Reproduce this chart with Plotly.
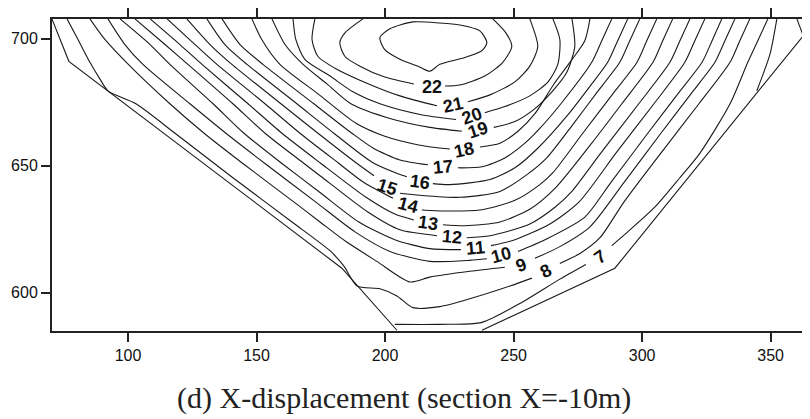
import plotly.graph_objects as go

N = None
# ---- contour lines of X-displacement (x: m, y: elevation m) ----
c5_x = [360.2, 362.5]
c5_y = [707.8, 701.6]
c6_x = [344.6, 349.7, 352.4]
c6_y = [679.5, 693.8, 707.8]
c7_x = [203.8, 221.3, 237.7, 252.4, 268.0, 278.1, N, 288.2, 294.4, 304.9, 314.7, 322.5, 334.2, 341.1, 345.0, 348.9]
c7_y = [587.6, 587.6, 588.4, 595.8, 605.4, 611.2, N, 618.6, 624.0, 633.7, 645.3, 655.0, 674.4, 690.7, 699.2, 707.8]
c8_x = [76.3, 80.6, 85.2, 89.1, 92.2, 103.1, 118.3, 140.8, 163.8, 178.9, 184.0, 189.1, 198.0, 204.6, 210.8, 221.3, 233.0, 248.6, 257.1, N,
        268.0, 275.8, 283.6, 292.9, 307.3, 322.1, 334.2, 338.0, 341.9]
c8_y = [707.8, 699.6, 690.7, 684.1, 679.5, 674.4, 662.8, 645.3, 627.9, 616.3, 610.5, 602.7, 601.6, 598.8, 594.2, 594.6, 597.7, 602.7, 605.8, N,
        611.6, 615.5, 621.7, 635.7, 655.0, 674.4, 690.7, 699.2, 707.8]
c9_x = [85.2, 91.1, 100.8, 116.3, 129.6, 144.3, 164.6, 174.7, 184.8, 196.8, 209.7, 217.4, 233.0, 246.6, N,
        258.3, 268.0, 279.7, 292.9, 307.3, 319.0, 328.3, 332.2, 336.1]
c9_y = [707.8, 699.6, 689.2, 674.4, 662.8, 651.2, 635.7, 627.9, 620.2, 612.4, 604.3, 606.2, 608.5, 610.1, N,
        613.6, 618.2, 626.0, 643.4, 662.8, 678.3, 690.7, 699.2, 707.8]
c10_x = [92.2, 98.8, 105.8, 124.1, 138.1, 152.9, 173.1, 188.3, 201.9, 217.4, 233.0, 239.6, N,
         251.7, 262.2, 277.7, 287.8, 302.2, 313.9, 323.3, 327.2, 331.0]
c10_y = [707.8, 697.7, 689.9, 674.4, 662.8, 651.2, 635.7, 624.0, 616.3, 612.4, 612.8, 613.4, N,
         616.3, 620.9, 629.8, 643.4, 662.8, 678.3, 690.7, 699.2, 707.8]
c11_x = [96.9, 108.6, 116.3, 133.1, 145.1, 159.5, 174.7, 189.8, 203.8, 217.4, 229.5, N,
         241.2, 250.5, 264.1, 275.4, 289.8, 304.6, 316.6, 320.5, 324.4]
c11_y = [707.8, 697.7, 689.9, 674.4, 662.8, 651.2, 639.5, 627.9, 620.9, 617.4, 617.0, N,
         618.6, 620.9, 627.1, 635.7, 655.0, 674.4, 690.7, 699.2, 707.8]
c12_x = [102.7, 114.4, 123.3, 140.8, 153.3, 168.1, 174.7, 193.3, 205.8, 220.2, N,
         231.8, 240.8, 256.3, 266.1, 272.3, 283.9, 298.7, 310.8, 314.7, 318.6]
c12_y = [707.8, 697.7, 689.9, 674.4, 662.8, 651.2, 646.1, 631.8, 624.8, 622.5, N,
         621.7, 622.5, 627.1, 633.7, 639.5, 655.0, 674.4, 690.7, 699.2, 707.8]
c13_x = [108.6, 120.2, 128.8, 146.7, 159.9, 174.7, 192.6, 203.8, 211.2, N,
         222.5, 231.1, 244.7, 256.3, 266.1, 280.4, 292.1, 304.2, 308.0, 311.9]
c13_y = [707.8, 697.7, 689.9, 674.4, 662.8, 651.2, 637.6, 631.0, 628.7, N,
         626.8, 626.4, 627.9, 632.9, 641.1, 658.9, 674.4, 690.7, 699.2, 707.8]
c14_x = [115.2, 126.1, 134.6, 153.3, 166.9, 181.7, 191.8, 203.1, N,
         214.3, 223.3, 236.9, 250.5, 260.2, 265.3, 276.9, 288.6, 298.0, 301.8, 305.7]
c14_y = [707.8, 697.7, 689.9, 674.4, 662.8, 651.2, 643.4, 637.2, N,
         632.6, 632.2, 632.6, 636.4, 642.6, 647.3, 662.8, 678.3, 690.7, 699.2, 707.8]
c15_x = [122.9, 131.9, 140.4, 159.5, 173.9, 188.7, 195.7, N,
         205.8, 213.6, 229.1, 244.7, 255.2, 262.9, 273.4, 282.0, 291.3, 295.2, 299.1]
c15_y = [707.8, 697.7, 689.9, 674.4, 662.8, 651.2, 646.1, N,
         639.2, 638.4, 637.6, 639.9, 646.5, 653.1, 666.7, 678.3, 690.7, 699.2, 707.8]
c16_x = [130.7, 137.7, 146.3, 165.7, 180.1, 195.3, 205.0, 208.5, N,
         218.6, 225.2, 240.8, 250.5, 259.4, 271.5, 280.4, 286.6, 290.5, 294.4]
c16_y = [707.8, 697.7, 689.9, 674.4, 662.8, 651.2, 646.9, 645.7, N,
         643.0, 642.6, 644.6, 649.2, 656.9, 670.5, 682.2, 690.7, 699.2, 707.8]
c17_x = [136.6, 143.6, 152.5, 172.3, 187.1, 195.3, 205.8, 216.7, N,
         228.3, 237.7, 246.6, 254.4, 260.2, 268.4, 280.4, 284.3, 288.2]
c17_y = [707.8, 697.7, 689.9, 674.4, 662.8, 657.0, 652.3, 650.4, N,
         649.2, 649.6, 653.1, 658.9, 664.7, 674.4, 690.7, 699.2, 707.8]
c18_x = [148.2, 152.1, 159.1, 173.9, 188.7, 199.9, 213.6, 225.2, N,
         236.9, 244.7, 251.7, 258.3, 265.7, 271.9, 277.7, 279.7]
c18_y = [707.8, 699.6, 689.9, 678.3, 666.7, 661.6, 658.1, 656.6, N,
         657.4, 658.9, 663.6, 670.5, 682.2, 690.7, 699.2, 707.8]
c19_x = [156.0, 161.1, 168.1, 177.4, 186.7, 201.9, 217.4, 229.9, N,
         242.3, 250.5, 258.3, 264.9, 270.7, 273.8, 272.7]
c19_y = [707.8, 697.7, 689.9, 682.2, 674.4, 668.6, 665.1, 663.6, N,
         665.1, 667.4, 672.5, 679.1, 686.8, 696.9, 707.8]
c20_x = [164.2, 165.3, 168.8, 178.6, 187.5, 198.0, 213.6, 227.6, N,
         238.8, 246.6, 256.3, 263.3, 267.2, 268.0, 265.3]
c20_y = [707.8, 699.6, 691.9, 685.3, 679.1, 674.4, 670.2, 668.2, N,
         670.9, 673.3, 677.5, 682.9, 689.9, 699.6, 707.8]
c21_x = [172.7, 171.6, 173.9, 180.5, 190.2, 205.8, 220.2, N,
         232.2, 240.8, 250.5, 256.3, 259.4, 256.3]
c21_y = [707.8, 699.6, 693.0, 688.4, 683.7, 677.5, 673.6, N,
         675.2, 677.9, 683.0, 689.2, 696.9, 707.8]
c22_x = [191.4, 184.4, 182.4, 184.4, 190.2, 199.9, 211.2, N,
         223.3, 229.1, 238.8, 245.8, 249.3, 247.0, 241.9]
c22_y = [707.8, 702.3, 698.4, 693.0, 689.2, 684.9, 682.2, N,
         681.4, 681.8, 685.3, 690.7, 696.9, 702.3, 707.8]
c23_x = [198.0, 201.9, 210.8, 221.3, 229.1, 236.9, 239.6, 237.7, 231.1, 221.3, 217.4, 213.6, 205.8, 199.9, 198.0]
c23_y = [700.4, 703.9, 706.6, 706.2, 705.4, 703.1, 698.4, 695.3, 692.6, 689.9, 687.2, 688.8, 691.9, 695.7, 700.4]

# valley (section) outline
bound_left_x = [70.4, 77.0, 183.2, 204.6]
bound_left_y = [707.8, 691.1, 609.7, 585.3]
bound_right_x = [237.7, 289.4, 368.0]
bound_right_y = [585.3, 609.7, 707.8]

# contour labels
label_text = ["22", "21", "20", "19", "18", "17", "16", "15", "14", "13", "12", "11", "10", "9", "8", "7"]
label_x = [218.2, 226.4, 233.8, 236.1, 230.7, 222.5, 213.6, 200.7, 208.9, 216.7, 226.0, 235.3, 245.2, 253.0, 262.6, 283.6]
label_y = [681.0, 674.1, 669.4, 664.0, 656.2, 649.6, 643.8, 641.5, 634.5, 627.5, 622.1, 617.8, 615.0, 611.0, 608.5, 614.3]
label_angle = [0, -12, -20, -18, -12, -5, 8, 18, 15, 8, 5, -5, -15, -20, -28, -35]

x_ticks = [100, 150, 200, 250, 300, 350]
y_ticks = [600, 650, 700]
caption = "(d) X-displacement (section X=-10m)"

contours = [(c5_x, c5_y), (c6_x, c6_y), (c7_x, c7_y), (c8_x, c8_y), (c9_x, c9_y), (c10_x, c10_y),
            (c11_x, c11_y), (c12_x, c12_y), (c13_x, c13_y), (c14_x, c14_y), (c15_x, c15_y),
            (c16_x, c16_y), (c17_x, c17_y), (c18_x, c18_y), (c19_x, c19_y), (c20_x, c20_y),
            (c21_x, c21_y), (c22_x, c22_y), (c23_x, c23_y)]
outline = [(bound_left_x, bound_left_y), (bound_right_x, bound_right_y)]

fig = go.Figure()
for xs, ys in contours:
    fig.add_trace(go.Scatter(x=xs, y=ys, mode="lines",
                             line=dict(color="#1a1a1a", width=1.1, shape="spline", smoothing=0.7),
                             hoverinfo="skip", showlegend=False, connectgaps=False))
for xs, ys in outline:
    fig.add_trace(go.Scatter(x=xs, y=ys, mode="lines", line=dict(color="#1a1a1a", width=1.1),
                             hoverinfo="skip", showlegend=False))

for t, lx, ly, a in zip(label_text, label_x, label_y, label_angle):
    fig.add_annotation(x=lx, y=ly, xref="x", yref="y", text="<b>" + t + "</b>", showarrow=False,
                       textangle=a, font=dict(family="Liberation Sans, Arial, sans-serif", size=18, color="#111"))

fig.add_annotation(x=0.4644, y=-0.215, xref="paper", yref="paper", text=caption, showarrow=False,
                   xanchor="center", yanchor="middle",
                   font=dict(family="Liberation Serif, Times New Roman, serif", size=30, color="#222"))

axis_common = dict(showgrid=False, zeroline=False, showline=True, linecolor="#222", linewidth=2,
                   ticks="outside", ticklen=9, tickwidth=1.5, tickcolor="#222",
                   tickfont=dict(family="Liberation Sans, Arial, sans-serif", size=16, color="#111"))
fig.update_xaxes(range=[70.44, 365.3], tickvals=x_ticks, mirror="ticks", **axis_common)
fig.update_yaxes(range=[585.0, 707.75], tickvals=y_ticks, mirror=False, **axis_common)

# the page body adds an 8px margin, so the figure is 8px smaller and margins are shifted accordingly
fig.update_layout(width=802, height=411, autosize=False, plot_bgcolor="white", paper_bgcolor="white",
                  margin=dict(l=44, r=0, t=6, b=88))
fig.write_html("out.html")
